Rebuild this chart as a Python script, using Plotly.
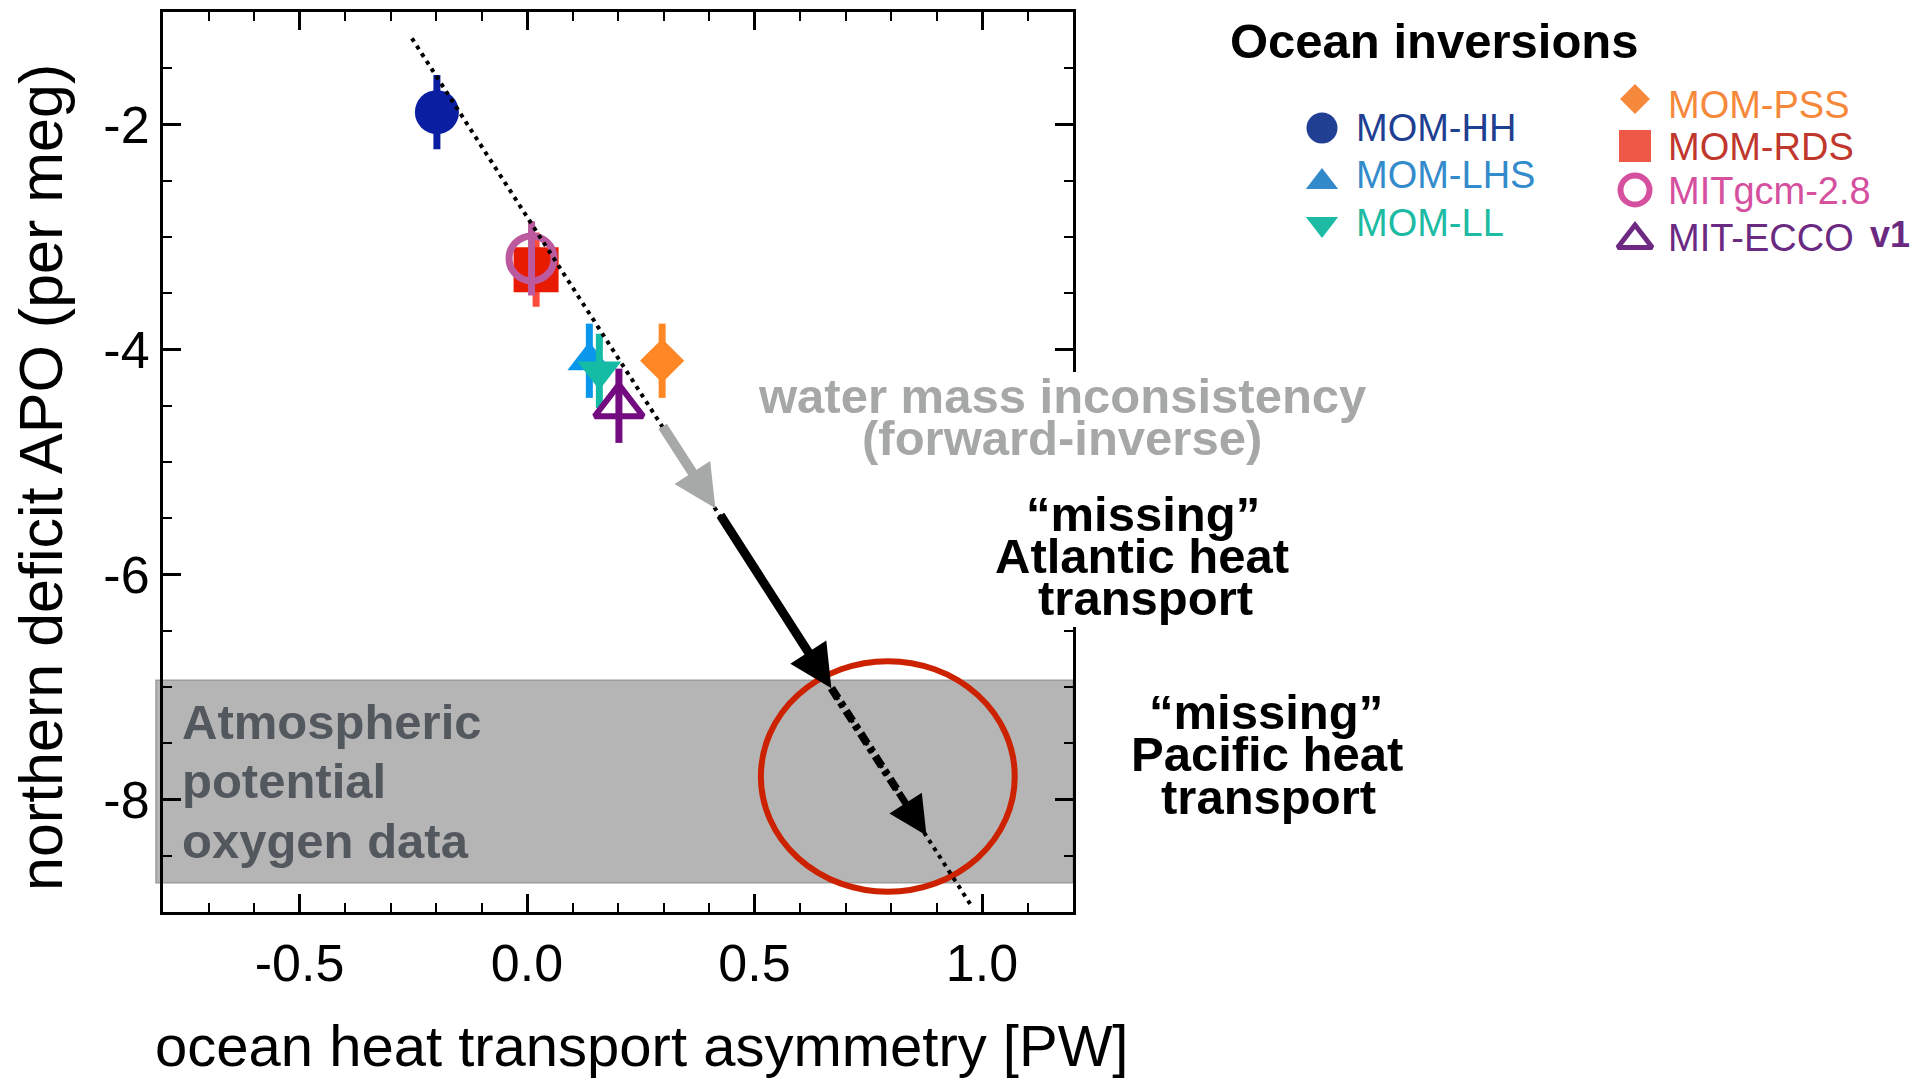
import plotly.graph_objects as go

# ---------------- data ----------------
models = ["MOM-HH", "MOM-RDS", "MITgcm-2.8", "MOM-LHS", "MOM-LL", "MIT-ECCO", "MOM-PSS"]
heat_transport = [-0.198, 0.020, 0.010, 0.137, 0.159, 0.202, 0.297]      # PW
apo_deficit = [-1.89, -3.29, -3.19, -4.10, -4.19, -4.50, -4.10]          # per meg
apo_error = [0.33, 0.33, 0.33, 0.33, 0.33, 0.33, 0.33]

fit_x = [-0.253, 0.979]
fit_y = [-1.234, -8.96]

obs_apo_range = [-6.94, -8.74]
target_x = [0.514, 1.072]
target_y = [-6.77, -8.82]

water_mass_x = [0.296, 0.414]
water_mass_y = [-4.67, -5.41]
atlantic_x = [0.423, 0.669]
atlantic_y = [-5.46, -7.01]
pacific_x = [0.669, 0.878]
pacific_y = [-7.01, -8.32]

x_tick_vals = [-0.5, 0.0, 0.5, 1.0]
x_tick_text = ["-0.5", "0.0", "0.5", "1.0"]
y_tick_vals = [-2, -4, -6, -8]
y_tick_text = ["-2", "-4", "-6", "-8"]

x_title = "ocean heat transport asymmetry [PW]"
y_title = "northern deficit APO (per meg)"

legend_left = ["MOM-HH", "MOM-LHS", "MOM-LL"]
legend_right = ["MOM-PSS", "MOM-RDS", "MITgcm-2.8", "MIT-ECCO"]

# ---------------- styles ----------------
W, H = 1932, 1086
FONT = "Liberation Sans, Arial, Helvetica, sans-serif"


def px(x):
    return x / W


def py(y):
    return 1 - y / H


style = {
    "MOM-HH": dict(symbol="circle", color="#0a1ea2", bar="#0a1ea2", size=44, lw=0,
                   lsym="circle", lcol="#213f93", ltxt="#1f3f92", lsize=31, llw=0),
    "MOM-LHS": dict(symbol="triangle-up", color="#0a96ea", bar="#0a96ea", size=38, lw=0,
                    lsym="triangle-up", lcol="#338acb", ltxt="#348bcb", lsize=28, llw=0),
    "MOM-LL": dict(symbol="triangle-down", color="#14bca5", bar="#14bca5", size=38, lw=0,
                   lsym="triangle-down", lcol="#1dbba4", ltxt="#1dbba3", lsize=28, llw=0),
    "MOM-PSS": dict(symbol="diamond", color="#ff8726", bar="#ff8726", size=34, lw=0,
                    lsym="diamond", lcol="#f5883a", ltxt="#f5883a", lsize=23, llw=0),
    "MOM-RDS": dict(symbol="square", color="#e81b00", bar="#ff4d3d", size=45, lw=0,
                    lsym="square", lcol="#ef5847", ltxt="#c0372d", lsize=32, llw=0),
    "MITgcm-2.8": dict(symbol="circle-open", color="#bc5aa0", bar="#bc5aa0", size=45, lw=7,
                       lsym="circle-open", lcol="#d5509f", ltxt="#d5509f", lsize=29, llw=6),
    "MIT-ECCO": dict(symbol="triangle-up-open", color="#730a80", bar="#730a80", size=42, lw=6,
                     lsym="triangle-up-open", lcol="#6e2a82", ltxt="#6b2a82", lsize=30, llw=5),
}

fig = go.Figure()

# model points with error bars
for name, xv, yv, ev in zip(models, heat_transport, apo_deficit, apo_error):
    s = style[name]
    fig.add_trace(go.Scatter(
        x=[xv], y=[yv], mode="markers", name=name,
        marker=dict(symbol=s["symbol"], color=s["color"], size=s["size"],
                    line=dict(width=s["lw"], color=s["color"])),
        error_y=dict(type="data", array=[ev], visible=True, thickness=7, width=0, color=s["bar"]),
        showlegend=False, hoverinfo="x+y+name",
    ))

# dotted regression line
fig.add_trace(go.Scatter(
    x=fit_x, y=fit_y, mode="lines",
    line=dict(color="black", width=4, dash="4px,5px"),
    showlegend=False, hoverinfo="skip",
))

# dashed "missing Pacific" shaft (head drawn by annotation)
head_frac = 0.3
p_head_x = pacific_x[1] - head_frac * (pacific_x[1] - pacific_x[0])
p_head_y = pacific_y[1] - head_frac * (pacific_y[1] - pacific_y[0])
fig.add_trace(go.Scatter(
    x=[pacific_x[0], p_head_x], y=[pacific_y[0], p_head_y], mode="lines",
    line=dict(color="black", width=8, dash="12px,5px,5px,5px"),
    showlegend=False, hoverinfo="skip",
))

# ---------------- legend (drawn on a pixel-space overlay axis) ----------------
left_col_x, right_col_x = 1322, 1635
left_rows = [128, 182, 224]
right_rows = [99, 146, 190, 240]
for names, colx, rows in ((legend_left, left_col_x, left_rows), (legend_right, right_col_x, right_rows)):
    for name, ry in zip(names, rows):
        s = style[name]
        fig.add_trace(go.Scatter(
            x=[colx], y=[ry], mode="markers", xaxis="x2", yaxis="y2",
            marker=dict(symbol=s["lsym"], color=s["lcol"], size=s["lsize"],
                        line=dict(width=s["llw"], color=s["lcol"])),
            showlegend=False, hoverinfo="skip", cliponaxis=False,
        ))

# ---------------- shapes ----------------
shapes = [
    dict(type="rect", xref="paper", yref="y", x0=px(156), x1=px(1073),
         y0=obs_apo_range[0], y1=obs_apo_range[1], fillcolor="#b5b5b6",
         line=dict(color="#9c9c9d", width=1.5), layer="below"),
    dict(type="circle", xref="x", yref="y", x0=target_x[0], x1=target_x[1],
         y0=target_y[0], y1=target_y[1], line=dict(color="#cc2200", width=6), layer="below"),
    # white knock-out behind the labels that cross the right frame
    dict(type="rect", xref="paper", yref="paper", x0=px(1052), x1=px(1084),
         y0=py(627), y1=py(372), fillcolor="white", line=dict(width=0), layer="above"),
]


def label(text, x, y, size, color, bold=True, xanchor="center", angle=0):
    return dict(text=text, x=px(x), y=py(y), xref="paper", yref="paper",
                xanchor=xanchor, yanchor="middle", showarrow=False, textangle=angle,
                font=dict(family=FONT, size=size, color=color, weight="bold" if bold else "normal"))


def arrow(xs, ys, color, width, size):
    return dict(x=xs[1], y=ys[1], ax=xs[0], ay=ys[0], xref="x", yref="y", axref="x", ayref="y",
                text="", showarrow=True, arrowhead=2, arrowsize=size, arrowwidth=width,
                arrowcolor=color, standoff=0)


annotations = [
    arrow(water_mass_x, water_mass_y, "#a6a9a8", 10, 0.85),
    arrow(atlantic_x, atlantic_y, "black", 9, 0.95),
    arrow([p_head_x, pacific_x[1]], [p_head_y, pacific_y[1]], "black", 7, 1.1),
    # axis titles
    label(x_title, 641, 1045, 58, "black", bold=False),
    label(y_title, 41, 478, 61, "black", bold=False, angle=-90),
    # texts
    label("water mass inconsistency", 1062, 396, 49, "#a5a8a7"),
    label("(forward-inverse)", 1062, 438, 49, "#a5a8a7"),
    label("\u201cmissing\u201d", 1143, 514, 49, "black"),
    label("Atlantic heat", 1142, 556, 49, "black"),
    label("transport", 1145, 598, 49, "black"),
    label("\u201cmissing\u201d", 1266, 712, 49, "black"),
    label("Pacific heat", 1267, 754, 49, "black"),
    label("transport", 1268, 797, 49, "black"),
    label("Atmospheric", 180, 722, 49, "#53575e", xanchor="left"),
    label("potential", 180, 781, 49, "#53575e", xanchor="left"),
    label("oxygen data", 180, 841, 49, "#53575e", xanchor="left"),
    label("Ocean inversions", 1434, 41, 49, "black"),
    label("v1", 1890, 234, 36, style["MIT-ECCO"]["ltxt"]),
]
left_text_rows = [128, 175, 223]
right_text_rows = [105, 147, 191, 238]
for names, tx, rows in ((legend_left, 1354, left_text_rows), (legend_right, 1666, right_text_rows)):
    for name, ry in zip(names, rows):
        annotations.append(label(name, tx, ry, 38, style[name]["ltxt"], bold=False, xanchor="left"))

axis_common = dict(
    showline=True, linecolor="black", linewidth=3, mirror="allticks",
    ticks="inside", ticklen=18, tickwidth=2.5, tickcolor="black",
    showgrid=False, zeroline=False,
    tickfont=dict(family=FONT, size=52, color="black"),
)

fig.update_layout(
    width=W, height=H, autosize=False,
    margin=dict(l=0, r=0, t=0, b=0),
    paper_bgcolor="white", plot_bgcolor="rgba(0,0,0,0)",
    showlegend=False,
    font=dict(family=FONT, color="black"),
    xaxis=dict(
        domain=[px(163), px(1073)], range=[-0.8, 1.2], anchor="y",
        tickmode="array", tickvals=x_tick_vals, ticktext=x_tick_text,
        ticklabelstandoff=4,
        minor=dict(tickmode="linear", tick0=0, dtick=0.1, ticks="inside", ticklen=9,
                   tickwidth=2, tickcolor="black", showgrid=False),
        **axis_common,
    ),
    yaxis=dict(
        domain=[py(912), py(12)], range=[-9, -1], anchor="x",
        tickmode="array", tickvals=y_tick_vals, ticktext=y_tick_text,
        minor=dict(tickmode="linear", tick0=0, dtick=0.5, ticks="inside", ticklen=9,
                   tickwidth=2, tickcolor="black", showgrid=False),
        **axis_common,
    ),
    xaxis2=dict(domain=[0, 1], range=[0, W], visible=False, fixedrange=True, anchor="y2"),
    yaxis2=dict(domain=[0, 1], range=[H, 0], visible=False, fixedrange=True, anchor="x2"),
    shapes=shapes,
    annotations=annotations,
)

fig.write_html("out.html", config={"displayModeBar": False},
               post_script="document.body.style.margin='0px';")
